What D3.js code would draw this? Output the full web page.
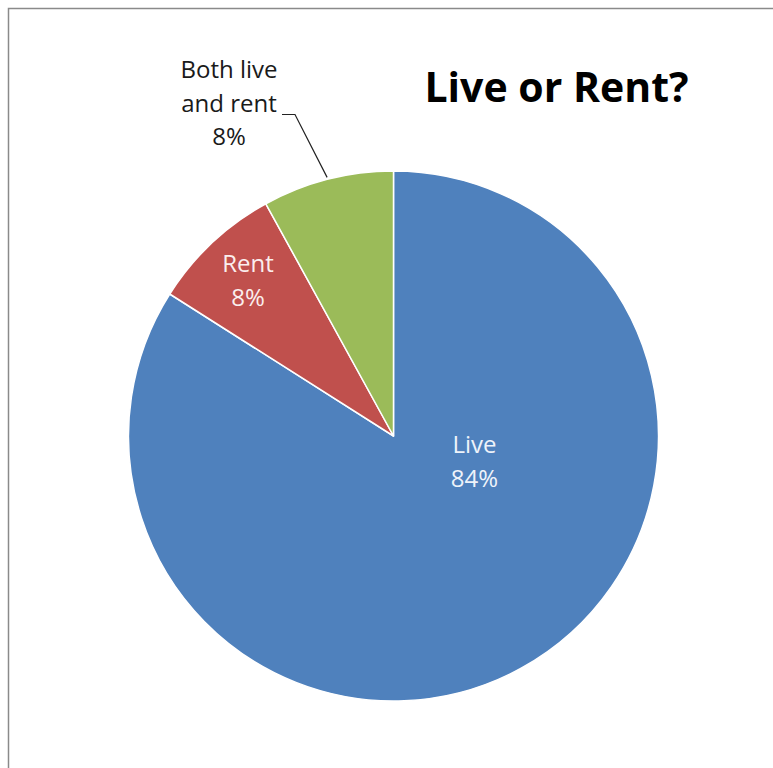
<!DOCTYPE html>
<html>
<head>
<meta charset="utf-8">
<script src="https://cdn.jsdelivr.net/npm/d3@7"></script>
<style>
  html, body { margin: 0; padding: 0; background: #fff; }
  svg { display: block; }
</style>
</head>
<body>
<script>
// Share of respondents: live in, rent out, or both
const categories = ["Live", "Rent", "Both live and rent"];
const values = [84, 8, 8];
const colors = ["#4F81BD", "#C0504D", "#9BBB59"];
const labelLines = [["Live", "84%"], ["Rent", "8%"], ["Both live", "and rent", "8%"]];
const title = "Live or Rent?";

const W = 773, H = 768;
const cx = 393.5, cy = 436, R = 265;
const font = "'Open Sans', 'DejaVu Sans', sans-serif";

const svg = d3.select("body").append("svg").attr("width", W).attr("height", H);

// chart frame
svg.append("rect")
  .attr("x", 8.5).attr("y", 8.5)
  .attr("width", W + 20).attr("height", H + 20)
  .attr("fill", "#fff").attr("stroke", "#8a8a8a").attr("stroke-width", 1.5);

const data = categories.map((c, i) => ({ name: c, value: values[i], color: colors[i], lines: labelLines[i] }));

const pie = d3.pie().value(d => d.value).sort(null);
const arcs = pie(data);
const arc = d3.arc().innerRadius(0).outerRadius(R);

const g = svg.append("g").attr("transform", `translate(${cx},${cy})`);

g.selectAll("path.slice")
  .data(arcs)
  .join("path")
  .attr("class", "slice")
  .attr("d", arc)
  .attr("fill", d => d.data.color)
  .attr("stroke", "#fff")
  .attr("stroke-width", 1.5)
  .attr("stroke-linejoin", "round");

// label anchors (first-line baseline, relative to the pie centre)
const labelPos = [
  { x: 81, y: 17, fill: "#eef3fa" },
  { x: -145.5, y: -164, fill: "#fbeeee" },
  { x: -164.5, y: -358, fill: "#1a1a1a" }
];
const lineGap = 33.5;

arcs.forEach((a, i) => {
  const p = labelPos[i];
  const t = g.append("text")
    .attr("text-anchor", "middle")
    .attr("font-family", font)
    .attr("font-size", 24)
    .attr("fill", p.fill);
  a.data.lines.forEach((ln, k) => {
    t.append("tspan").attr("x", p.x).attr("y", p.y + k * lineGap).text(ln);
  });
});

// leader line from the outside label to the green slice
const both = arcs[2];
const bMid = (both.startAngle + both.endAngle) / 2;
const edge = [Math.sin(bMid) * (R + 2), -Math.cos(bMid) * (R + 2)];
const lp = labelPos[2];
const hook = [[lp.x + 53, lp.y + lineGap + 3], [lp.x + 66, lp.y + lineGap + 3]];
g.append("polyline")
  .attr("points", [...hook, edge].map(p => p.join(",")).join(" "))
  .attr("fill", "none")
  .attr("stroke", "#222")
  .attr("stroke-width", 1.2);

// title
svg.append("text")
  .attr("x", 556.5).attr("y", 102)
  .attr("text-anchor", "middle")
  .attr("font-family", font)
  .attr("font-weight", "bold")
  .attr("font-size", 41)
  .attr("fill", "#000")
  .text(title);
</script>
</body>
</html>
